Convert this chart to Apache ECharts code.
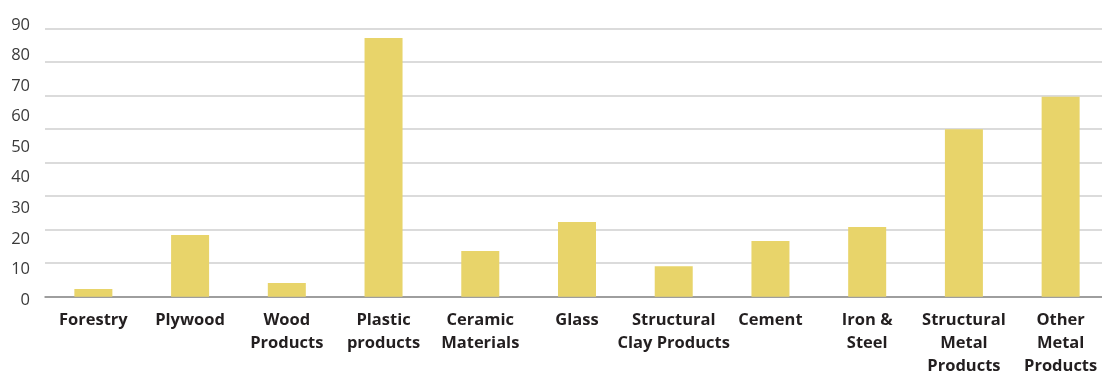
<!DOCTYPE html>
<html>
<head>
<meta charset="utf-8">
<script src="https://cdn.jsdelivr.net/npm/echarts@6/dist/echarts.min.js"></script>
<style>
  html, body { margin: 0; padding: 0; background: #fff; }
  #main { width: 1102px; height: 376px; }
</style>
</head>
<body>
<div id="main"></div>
<script>
var categories = [
  'Forestry', 'Plywood', 'Wood\nProducts', 'Plastic\nproducts', 'Ceramic\nMaterials',
  'Glass', 'Structural\nClay Products', 'Cement', 'Iron &\nSteel',
  'Structural\nMetal\nProducts', 'Other\nMetal\nProducts'
];
// values measured against the gridlines
var values = [2.3, 18.4, 4.1, 77.1, 13.6, 22.3, 9.1, 16.6, 20.8, 49.9, 59.6];
// tick labels as printed on the chart (they are spaced independently of the gridlines)
var tickLabels = [0, 10, 20, 30, 40, 50, 60, 70, 80, 90];

var chart = echarts.init(document.getElementById('main'));
chart.setOption({
  animation: false,
  textStyle: { fontFamily: 'Open Sans' },
  grid: [
    { left: 45, right: -7, top: 28.3, bottom: 79.3, outerBoundsMode: 'none' },
    { left: 45, right: -7, top: 25, bottom: 76, outerBoundsMode: 'none' }
  ],
  xAxis: [{
    type: 'category',
    gridIndex: 0,
    data: categories,
    axisTick: { show: false },
    axisLine: { lineStyle: { color: '#8a8a8a', width: 1.5 } },
    axisLabel: {
      interval: 0,
      margin: 12,
      color: '#231f20',
      fontWeight: 'bold',
      fontSize: 16.5,
      lineHeight: 23
    }
  }, {
    type: 'category',
    gridIndex: 1,
    show: false
  }],
  yAxis: [{
    type: 'value',
    gridIndex: 0,
    min: 0,
    max: 80,
    interval: 10,
    axisLabel: { show: false },
    axisLine: { show: false },
    axisTick: { show: false },
    splitLine: { lineStyle: { color: '#cfcfcf', width: 1.5 } }
  }, {
    type: 'value',
    gridIndex: 1,
    min: tickLabels[0],
    max: tickLabels[tickLabels.length - 1],
    interval: tickLabels[1] - tickLabels[0],
    axisLine: { show: false },
    axisTick: { show: false },
    splitLine: { show: false },
    axisLabel: { color: '#3a3a3a', fontSize: 16.5, margin: 15 }
  }],
  series: [{
    type: 'bar',
    xAxisIndex: 0,
    yAxisIndex: 0,
    data: values,
    barWidth: 38,
    itemStyle: { color: '#e8d46a' }
  }]
});
</script>
</body>
</html>
